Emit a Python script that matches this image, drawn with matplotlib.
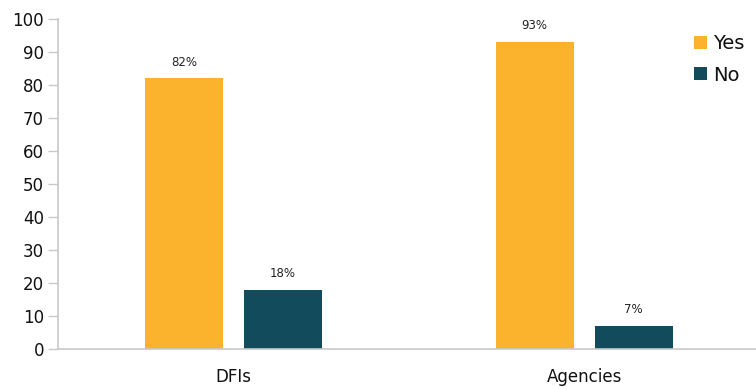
import matplotlib
matplotlib.use("Agg")
import matplotlib.pyplot as plt
import numpy as np

categories = ["DFIs", "Agencies"]
series_names = ["Yes", "No"]
yes_values = [82, 93]
no_values = [18, 7]
yticks = list(range(0, 101, 10))

colors = {"Yes": "#FBB32E", "No": "#124B5B"}

plt.rcParams['font.family'] = ['DejaVu Sans']

fig = plt.figure(figsize=(7.56, 3.89), dpi=100)
ax = fig.add_axes([58/756, 1-349/389, 1-58/756, (349-19)/389])

x = np.arange(len(categories))
w = 0.222
off = 0.141
b1 = ax.bar(x - off, yes_values, w, color=colors["Yes"], label=series_names[0])
b2 = ax.bar(x + off, no_values, w, color=colors["No"], label=series_names[1])

for bars, vals in ((b1, yes_values), (b2, no_values)):
    for rect, v in zip(bars, vals):
        ax.annotate(f"{v}%", (rect.get_x() + rect.get_width()/2, v),
                    xytext=(0, 7), textcoords="offset points",
                    ha="center", va="bottom", fontsize=8.5, color="#222222")

ax.set_xlim(-0.5, 1.49)
ax.set_ylim(0, 100)
ax.set_yticks(yticks)
ax.set_xticks(x)
ax.set_xticklabels(categories)
ax.tick_params(axis="x", length=0, pad=14, labelsize=12, colors="#111111")
ax.tick_params(axis="y", length=7, width=1, color="#c8c8c8", pad=3,
               labelsize=12, labelcolor="#111111")
for s in ("top", "right"):
    ax.spines[s].set_visible(False)
for s in ("left", "bottom"):
    ax.spines[s].set_color("#c8c8c8")
    ax.spines[s].set_linewidth(1.2)

leg = fig.legend(handles=[b1, b2], loc="upper left", bbox_to_anchor=(694/756, 1-34/389),
                 frameon=False, fontsize=14, handlelength=0.65, handleheight=0.65,
                 handletextpad=0.35, labelspacing=0.65, borderpad=0, borderaxespad=0)
for t in leg.get_texts():
    t.set_color("#111111")

fig.savefig("out.png", dpi=100)
